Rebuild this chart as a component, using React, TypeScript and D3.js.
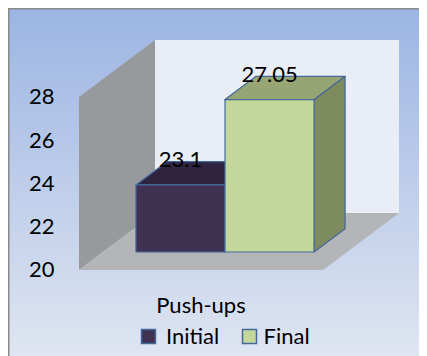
import React from "react";
import * as d3 from "d3";

const categories = ["Push-ups"];
const seriesNames = ["Initial", "Final"];
const initialValues = [23.1];
const finalValues = [27.05];
const yTicks = [20, 22, 24, 26, 28];

const W = 419;
const H = 348;
const OX = 8; // svg offset in page
const OY = 8;
const FS = 22;

export default function App() {
  const frontLeft = 79 - OX;
  const frontRight = 323 - OX;
  const depthDX = 76;
  const depthDY = -57;

  const y = d3.scaleLinear().domain([20, 28]).range([270 - OY, 97 - OY]);
  const x0 = d3
    .scaleBand<string>()
    .domain(categories)
    .range([frontLeft, frontRight])
    .paddingInner(0.27)
    .paddingOuter(0.135);
  const x1 = d3.scaleBand<string>().domain(seriesNames).range([0, x0.bandwidth()]);

  const P = (px: number, py: number, d: number): [number, number] => [
    px + depthDX * d,
    py + depthDY * d,
  ];
  const poly = (pts: [number, number][]) => d3.line()(pts)! + "Z";

  const y0 = y.domain()[0];
  const y1 = y.domain()[1];

  const backWall = poly([
    P(frontLeft, y(y1), 1),
    P(frontRight, y(y1), 1),
    P(frontRight, y(y0), 1),
    P(frontLeft, y(y0), 1),
  ]);
  const sideWall = poly([
    P(frontLeft, y(y1), 0),
    P(frontLeft, y(y1), 1),
    P(frontLeft, y(y0), 1),
    P(frontLeft, y(y0), 0),
  ]);
  const floor = poly([
    P(frontLeft, y(y0), 0),
    P(frontRight, y(y0), 0),
    P(frontRight, y(y0), 1),
    P(frontLeft, y(y0), 1),
  ]);

  const dFront = 0.316;
  const dBack = 0.724;

  const series = [
    { name: "Initial", values: initialValues, front: "#3f3152", top: "#2e2440", side: "#2c2238" },
    { name: "Final", values: finalValues, front: "#c4d79b", top: "#97a574", side: "#7e8b5e" },
  ];
  const stroke = "#44689a";

  const bars: React.ReactNode[] = [];
  const labels: React.ReactNode[] = [];
  categories.forEach((c, ci) => {
    series.forEach((s) => {
      const v = s.values[ci];
      const xl = (x0(c) as number) + (x1(s.name) as number);
      const xr = xl + x1.bandwidth();
      const yt = y(v);
      const yb = y(y0);
      const front = poly([P(xl, yt, dFront), P(xr, yt, dFront), P(xr, yb, dFront), P(xl, yb, dFront)]);
      const top = poly([P(xl, yt, dFront), P(xr, yt, dFront), P(xr, yt, dBack), P(xl, yt, dBack)]);
      const side = poly([P(xr, yt, dFront), P(xr, yt, dBack), P(xr, yb, dBack), P(xr, yb, dFront)]);
      bars.push(
        <g key={s.name + c}>
          <path d={side} fill={s.side} stroke={stroke} strokeWidth={1.2} strokeLinejoin="round" />
          <path d={top} fill={s.top} stroke={stroke} strokeWidth={1.2} strokeLinejoin="round" />
          <path d={front} fill={s.front} stroke={stroke} strokeWidth={1.2} strokeLinejoin="round" />
        </g>
      );
      const [lx, ly] = P((xl + xr) / 2, yt, dFront);
      labels.push(
        <text key={"l" + s.name + c} x={lx} y={ly - 18} textAnchor="middle" fontSize={FS}>
          {String(v)}
        </text>
      );
    });
  });

  const legendLayout = [
    { x: 141 - OX, tx: 166 - OX },
    { x: 242 - OX, tx: 263.5 - OX },
  ];

  return (
    <svg width={W} height={H} style={{ display: "block" }} fontFamily="Lato, Carlito, sans-serif">
      <defs>
        <linearGradient id="bg" x1="0" y1="0" x2="0" y2="1">
          <stop offset="0" stopColor="#9bb5e3" />
          <stop offset="1" stopColor="#dfe5f1" />
        </linearGradient>
      </defs>
      <rect x={0} y={0} width={W} height={H} fill="url(#bg)" />
      <line x1={0.75} y1={0} x2={0.75} y2={H} stroke="#8a8a8a" strokeWidth={1.5} />
      <line x1={0} y1={0.75} x2={W} y2={0.75} stroke="#8a8a8a" strokeWidth={1.5} />

      <path d={backWall} fill="#e9edf6" />
      <path d={sideWall} fill="#97999d" />
      <path d={floor} fill="#b3b5b8" />

      {yTicks.map((t) => (
        <text key={t} x={54.5 - OX} y={y(t)} dy="0.33em" textAnchor="end" fontSize={FS}>
          {t}
        </text>
      ))}

      {bars}
      {labels}

      {categories.map((c) => (
        <text
          key={c}
          x={(frontLeft + frontRight) / 2}
          y={313 - OY}
          textAnchor="middle"
          fontSize={FS}
        >
          {c}
        </text>
      ))}

      {series.map((s, i) => (
        <g key={s.name}>
          <rect
            x={legendLayout[i].x + 0.5}
            y={329 - OY + 0.5}
            width={14}
            height={14}
            fill={s.front}
            stroke={stroke}
            strokeWidth={1.5}
          />
          <text x={legendLayout[i].tx} y={344 - OY} fontSize={FS}>
            {s.name}
          </text>
        </g>
      ))}
    </svg>
  );
}
